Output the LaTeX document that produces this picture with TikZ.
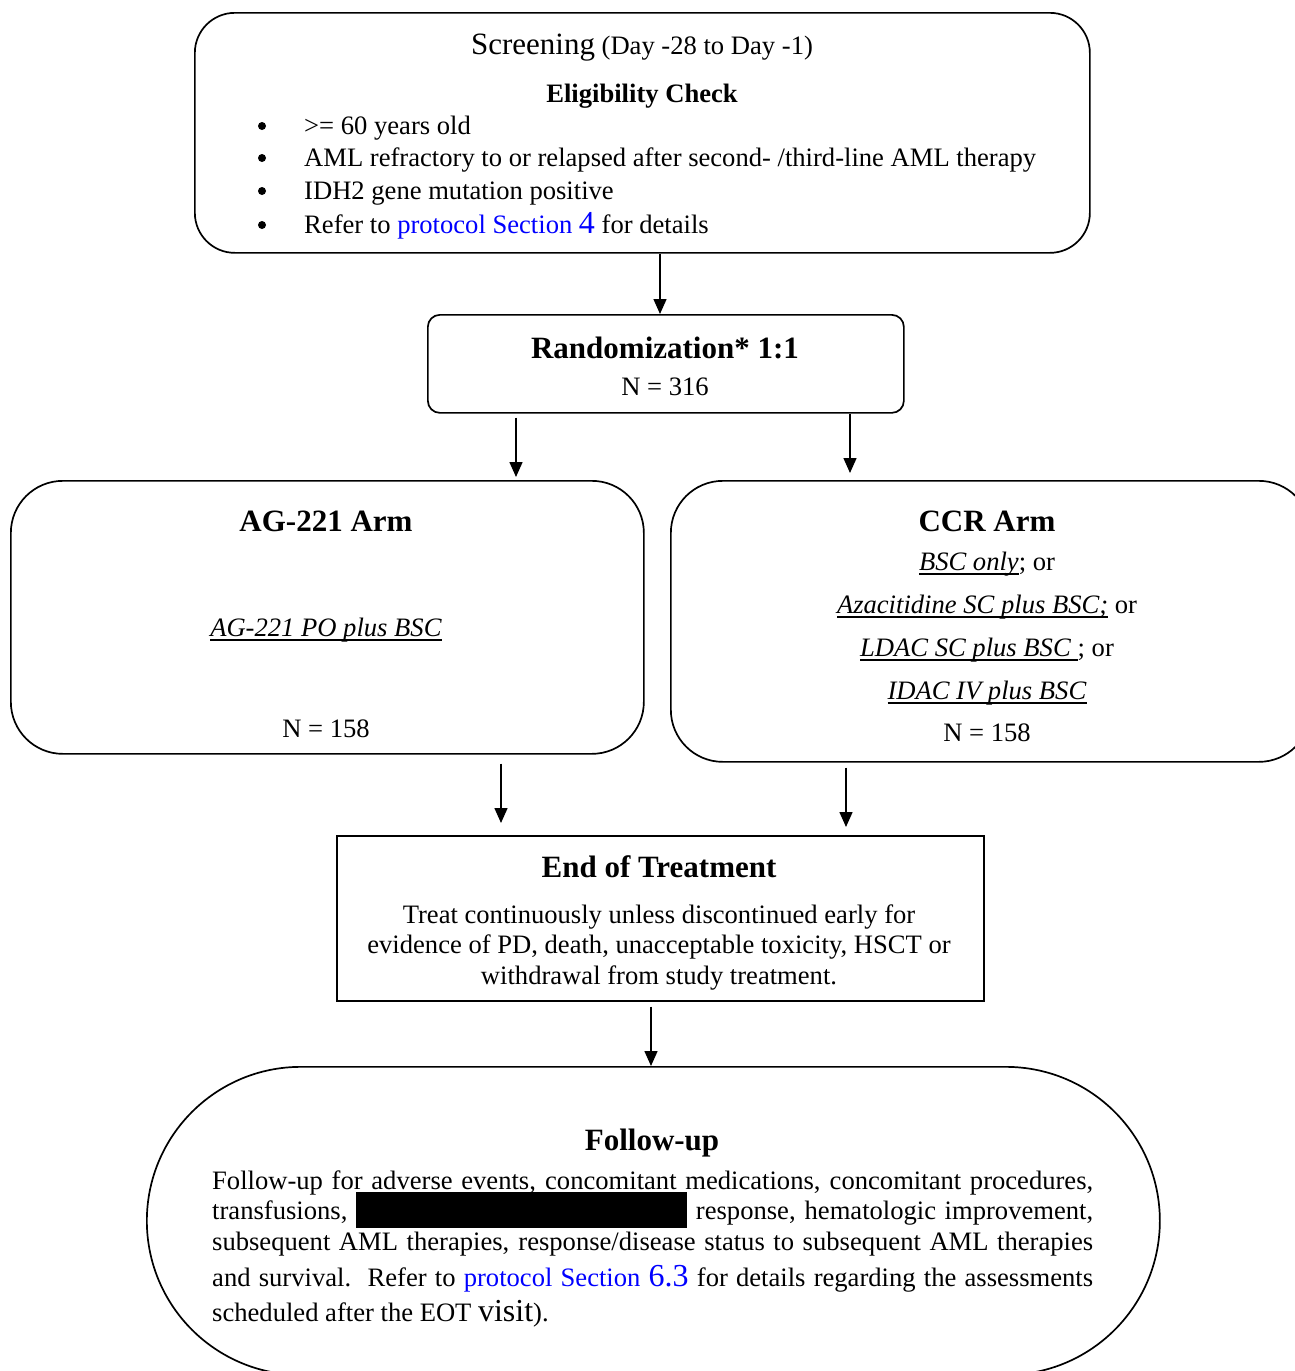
\documentclass[tikz,border=0pt]{standalone}
\usepackage{fontspec}
\setmainfont{Liberation Serif}
\usetikzlibrary{arrows.meta}
\definecolor{linkblue}{RGB}{0,0,255}
\newcommand{\bigfs}{\fontsize{31}{36}\selectfont}
\newcommand{\linkfs}{\fontsize{32}{36}\selectfont}
\newcommand{\myul}[1]{\setbox0\hbox{#1}\rlap{\rule[-5pt]{\wd0}{1.7pt}}\box0\relax}
\begin{document}
\begin{tikzpicture}[x=1pt,y=-1pt,
  box/.style={draw, line width=1.7pt, inner sep=0pt, anchor=north west},
  arr/.style={line width=1.5pt, -{Triangle[width=13pt,length=15pt]}},
  txt/.style={anchor=base, inner sep=0pt, font=\fontsize{26.6}{30}\selectfont},
  txtl/.style={txt, anchor=base west},
  head/.style={anchor=base, inner sep=0pt, font=\fontsize{31}{36}\selectfont\bfseries},
  dot/.style={circle, fill, inner sep=0pt, minimum size=8pt}
]
\useasboundingbox (0,0) rectangle (1295,1371);

% boxes
\node[box, rounded corners=40pt, minimum width=895pt, minimum height=240pt] (scr) at (194,12) {};
\node[box, rounded corners=12pt, minimum width=476pt, minimum height=98pt] (rand) at (427,314) {};
\node[box, rounded corners=52pt, minimum width=633pt, minimum height=273pt] (ag) at (10,480) {};
\node[box, rounded corners=52pt, minimum width=640pt, minimum height=281pt] (ccr) at (670,480) {};
\node[box, minimum width=647pt, minimum height=165pt] (eot) at (336,835) {};
\node[box, rounded corners=154pt, minimum width=1013pt, minimum height=308pt] (fu) at (146,1066) {};

% screening text
\node[txt] (scrT) at (642,54) {{\bigfs Screening} (Day -28 to Day -1)};
\node[txt, font=\fontsize{26.6}{30}\selectfont\bfseries] (elig) at (642,102) {Eligibility Check};
\node[dot] (bu1) at (262,126) {};
\node[dot] (bu2) at (262,158) {};
\node[dot] (bu3) at (262,191) {};
\node[dot] (bu4) at (262,225) {};
\node[txtl] (it1) at (304,134) {>= 60 years old};
\node[txtl] (it2) at (304,166) {AML refractory to or relapsed after second- /third-line AML therapy};
\node[txtl] (it3) at (304,199) {IDH2 gene mutation positive};
\node[txtl] (it4) at (304,233) {Refer to \textcolor{linkblue}{protocol Section {\linkfs 4}} for details};

% randomization
\node[head] (randT) at (665,358) {Randomization* 1:1};
\node[txt] (randN) at (665,395) {N = 316};

% AG-221 arm
\node[head] (agT) at (326,531) {AG-221 Arm};
\node[txt] (agL) at (326,636) {\myul{\textit{AG-221 PO plus BSC}}};
\node[txt] (agN) at (326,737) {N = 158};

% CCR arm
\node[head] (ccrT) at (987,531) {CCR Arm};
\node[txt] (ccr1) at (987,570) {\myul{\textit{BSC only}}; or};
\node[txt] (ccr2) at (987,613) {\myul{\textit{Azacitidine SC plus BSC;}} or};
\node[txt] (ccr3) at (987,656) {\myul{\textit{LDAC SC plus BSC\ }}; or};
\node[txt] (ccr4) at (987,699) {\myul{\textit{IDAC IV plus BSC}}};
\node[txt] (ccrN) at (987,741) {N = 158};

% end of treatment
\node[head] (eotT) at (659,877) {End of Treatment};
\node[txt] (eot1) at (659,923) {Treat continuously unless discontinued early for};
\node[txt] (eot2) at (659,953) {evidence of PD, death, unacceptable toxicity, HSCT or};
\node[txt] (eot3) at (659,984) {withdrawal from study treatment.};

% follow-up
\node[head] (fuT) at (652,1150) {Follow-up};
\node[txtl] (fu1) at (212,1189) {\makebox[881pt][s]{Follow-up for adverse events, concomitant medications, concomitant procedures,}};
\node[txtl] (fu2) at (212,1219) {\makebox[881pt][s]{transfusions, \rule[-9pt]{331pt}{36pt} response, hematologic improvement,}};
\node[txtl] (fu3) at (212,1250) {\makebox[881pt][s]{subsequent AML therapies, response/disease status to subsequent AML therapies}};
\node[txtl] (fu4) at (212,1286) {\makebox[881pt][s]{and survival.\ \ Refer to \textcolor{linkblue}{protocol Section {\linkfs 6.3}} for details regarding the assessments}};
\node[txtl] (fu5) at (212,1321) {scheduled after the EOT {\linkfs visit}).};

% arrow columns
\coordinate (x1) at (660,0);
\coordinate (x2) at (516,0);
\coordinate (x3) at (850,0);
\coordinate (x4) at (501,0);
\coordinate (x5) at (846,0);
\coordinate (x6) at (651,0);

\draw[arr] (scr.south -| x1) -- (rand.north -| x1);
\draw[arr, shorten <=4pt, shorten >=3pt] (rand.south -| x2) -- (ag.north -| x2);
\draw[arr, shorten >=7pt] (rand.south -| x3) -- (ccr.north -| x3);
\draw[arr, shorten <=9pt, shorten >=12pt] (ag.south -| x4) -- (eot.north -| x4);
\draw[arr, shorten <=5pt, shorten >=8pt] (ccr.south -| x5) -- (eot.north -| x5);
\draw[arr, shorten <=5pt] (eot.south -| x6) -- (fu.north -| x6);
\end{tikzpicture}
\end{document}
